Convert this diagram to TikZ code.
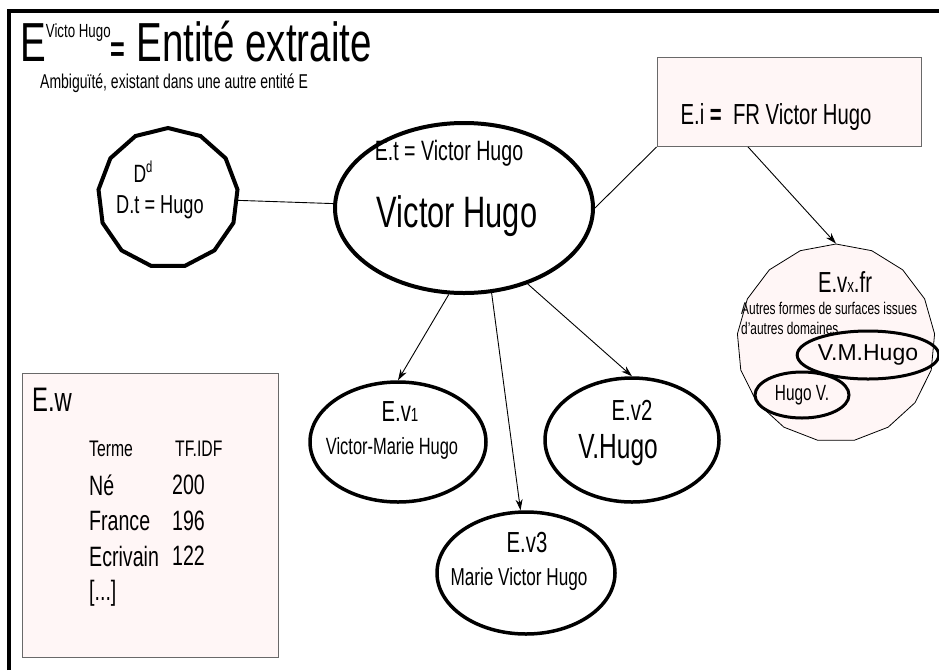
\documentclass[tikz,border=0pt]{standalone}
\usepackage{fontspec}
\setmainfont{Liberation Sans}[FakeStretch=0.7]
\newfontfamily\widesans{Liberation Sans}
\usetikzlibrary{shapes.geometric,arrows.meta}
\definecolor{boxpink}{RGB}{255,246,246}
\definecolor{boxedge}{RGB}{105,105,105}
\newcommand{\sz}[1]{\fontsize{#1}{#1}\selectfont}

\begin{document}
\begin{tikzpicture}[x=1pt, y=-1pt,
  txt/.style={inner sep=0pt},
  oval/.style={draw, ellipse, line width=3.5pt, inner sep=0pt},
  pinkbox/.style={draw=boxedge, fill=boxpink, line width=0.8pt, inner sep=0pt},
  link/.style={line width=0.9pt},
  arr/.style={link, -{Stealth[length=11pt, width=7pt]}}]
\useasboundingbox (0,0) rectangle (939,670);
\draw[line width=4pt] (9,670) -- (9,11) -- (939,11);

% title
\node[txt, anchor=base west] (title) at (20,61) {\sz{55}E\raisebox{24pt}{\sz{19}Victo Hugo}{\bfseries\sz{36}=}\hspace{11pt}Entité extraite};
\node[txt, anchor=west] (amb) at (40,83) {\sz{20}Ambiguïté, existant dans une autre entité E};

% ambiguous entity D
\node[draw, regular polygon, regular polygon sides=13, minimum size=140pt, line width=4pt, inner sep=0pt] (d) at (168,198) {};
\node[txt] (dsup) at (143,172) {\sz{25}D\raisebox{10pt}{\sz{16}d}};
\node[txt] (dt) at (160,207) {\sz{26}D.t = Hugo};

% extracted entity
\node[oval, minimum width=258pt, minimum height=170pt, line width=4pt] (vh) at (464,208) {};
\node[txt] (vht) at (449,153) {\sz{28}E.t = Victor Hugo};
\node[txt] (vhname) at (457,216) {\sz{44}Victor Hugo};

% identifier
\node[pinkbox, minimum width=264pt, minimum height=89pt] (ei) at (789,102) {};
\node[txt] (eitxt) at (776,117) {\sz{29}E.i {\bfseries =}\ \ FR Victor Hugo};

% other surface forms
\node[pinkbox, draw=black, regular polygon, regular polygon sides=17, minimum size=198pt] (evx) at (836,343) {};
\node[txt] (evxt) at (845,282) {\sz{29}E.v{\sz{19}x}.fr};
\node[txt, anchor=west, align=left, font=\fontsize{17}{20}\selectfont] (evxnote) at (741,318) {Autres formes de surfaces issues\\d'autres domaines};
\node[oval, line width=3pt, minimum width=132pt, minimum height=48pt] (vmh) at (868,355) {\widesans\sz{23}V.M.Hugo};
\node[oval, line width=3pt, minimum width=94pt, minimum height=46pt] (hv) at (802,395) {\sz{22}Hugo V.};

% term weights
\node[pinkbox, minimum width=256pt, minimum height=284pt] (ew) at (150,515) {};
\node[txt, anchor=west] (ewt) at (32,400) {\sz{34}E.w};
\node[txt, anchor=west] (hterm) at (89,449) {\sz{22.5}Terme};
\node[txt, anchor=west] (hval) at (175,449) {\sz{22.5}TF.IDF};
\foreach \term/\val/\y in {Né/200/485, France/196/521, Ecrivain/122/556} {
  \node[txt, anchor=west] (term-\val) at (89,\y) {\sz{28}\term};
  \node[txt, anchor=west] (val-\val) at (172,\y) {\sz{28}\val};
}
\node[txt, anchor=west] (etc) at (89,593) {\sz{28}[...]};

% variants
\node[oval, minimum width=176pt, minimum height=120pt] (v1) at (398,442) {};
\node[txt] (v1t) at (400,412) {\sz{29}E.v{\sz{19}1}};
\node[txt] (v1n) at (392,448) {\sz{23.5}Victor-Marie Hugo};
\node[oval, minimum width=174pt, minimum height=124pt] (v2) at (632,440) {};
\node[txt] (v2t) at (632,410) {\sz{29}E.v2};
\node[txt] (v2n) at (618,450) {\sz{35}V.Hugo};
\node[oval, minimum width=178pt, minimum height=122pt] (v3) at (526,573) {};
\node[txt] (v3t) at (527,543) {\sz{29}E.v3};
\node[txt] (v3n) at (519,579) {\sz{24.5}Marie Victor Hugo};

\draw[link] (d) -- (vh);
\draw[link] (vh.east) -- (ei.south west);
\draw[arr] ([xshift=-41pt]ei.south) -- (evx.north);
\draw[arr] (vh.260) -- (v1.north);
\draw[arr] (vh.288) -- (v3.95);
\draw[arr] (vh.310) -- (v2.north);
\end{tikzpicture}
\end{document}
